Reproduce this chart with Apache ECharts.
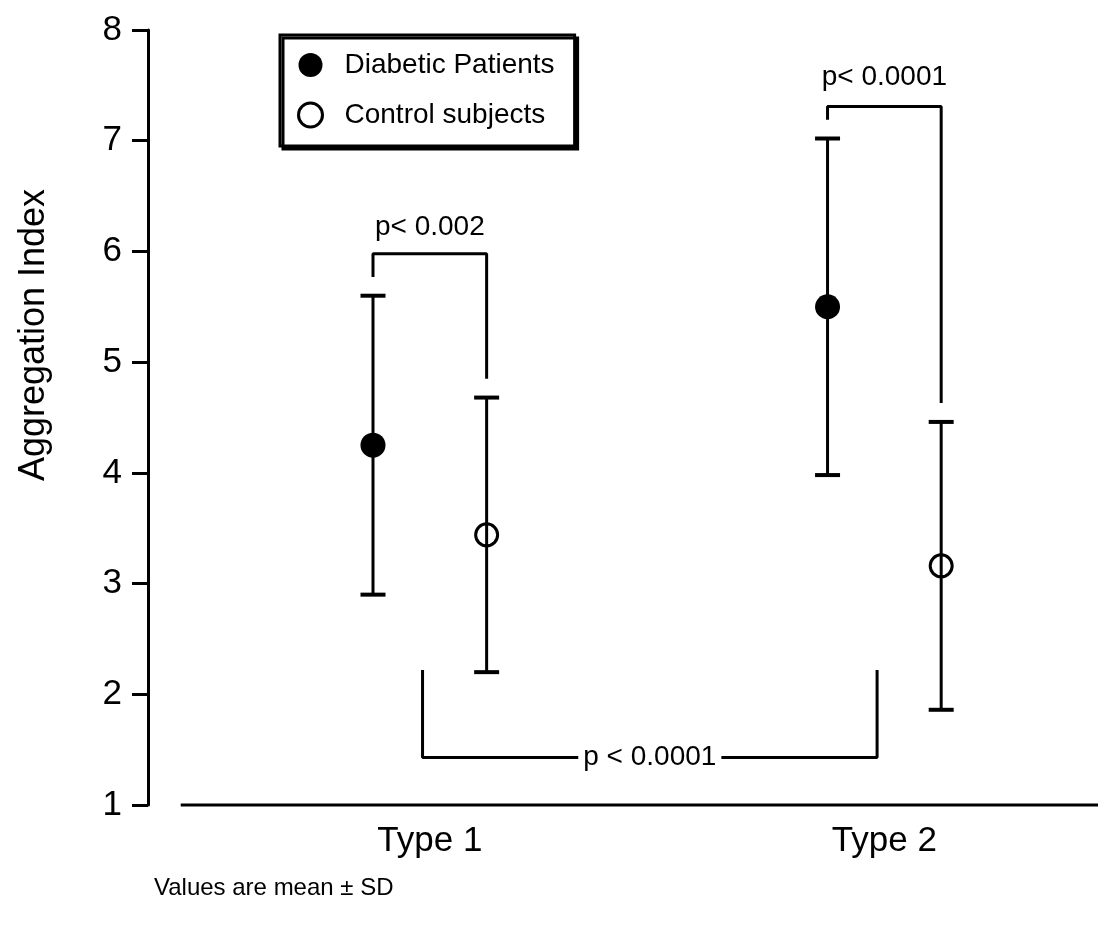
<!DOCTYPE html>
<html>
<head>
<meta charset="utf-8">
<script src="https://cdn.jsdelivr.net/npm/echarts@6/dist/echarts.min.js"></script>
<style>
html,body{margin:0;padding:0;background:#fff;}
#chart{width:1102px;height:932px;}
</style>
</head>
<body>
<div id="chart"></div>
<script>
// Groups and summary statistics (mean and SD of the aggregation index)
const groups = ['Type 1', 'Type 2'];
const groupPos = [1, 2];
const seriesNames = ['Diabetic Patients', 'Control subjects'];
const diabeticMean = [4.25, 5.5];
const diabeticSD = [1.35, 1.52];
const controlMean = [3.44, 3.16];
const controlSD = [1.24, 1.30];
const yTicks = [1, 2, 3, 4, 5, 6, 7, 8];

// Significance annotations
const pairLabels = ['p< 0.002', 'p< 0.0001'];
const pairBracketTop = [5.98, 7.31];
const betweenLabel = 'p < 0.0001';
const betweenBracket = { low: 1.43, high: 2.22 };

const FONT = '"Liberation Sans", Arial, Helvetica, sans-serif';
const OFFSET = 0.125;       // horizontal shift of each series from the group centre
const CAP_GAP = 0.17;       // space between an error-bar cap and a bracket end

const dX = groupPos.map(p => p - OFFSET);
const cX = groupPos.map(p => p + OFFSET);

const diabeticPts = groupPos.map((_, i) => [dX[i], diabeticMean[i]]);
const controlPts = groupPos.map((_, i) => [cX[i], controlMean[i]]);
const errorBars = [];
groupPos.forEach((_, i) => {
  errorBars.push([dX[i], diabeticMean[i] - diabeticSD[i], diabeticMean[i] + diabeticSD[i]]);
  errorBars.push([cX[i], controlMean[i] - controlSD[i], controlMean[i] + controlSD[i]]);
});

// Bracket over each diabetic/control pair
const pairBrackets = groupPos.map((_, i) => [
  [dX[i], diabeticMean[i] + diabeticSD[i] + CAP_GAP],
  [dX[i], pairBracketTop[i]],
  [cX[i], pairBracketTop[i]],
  [cX[i], controlMean[i] + controlSD[i] + CAP_GAP]
]);
const betweenX = groupPos.map(p => p - 0.016);
const betweenLine = [
  [betweenX[0], betweenBracket.high],
  [betweenX[0], betweenBracket.low],
  [betweenX[1], betweenBracket.low],
  [betweenX[1], betweenBracket.high]
];

const textItems = [
  { x: groupPos[0], y: pairBracketTop[0] + 0.24, text: pairLabels[0], bg: false },
  { x: groupPos[1], y: pairBracketTop[1] + 0.26, text: pairLabels[1], bg: false },
  { x: (betweenX[0] + betweenX[1]) / 2, y: betweenBracket.low, text: betweenLabel, bg: true }
];

const chart = echarts.init(document.getElementById('chart'), null, { renderer: 'canvas' });

function errorBarItem(params, api) {
  const x = api.value(0);
  const pLo = api.coord([x, api.value(1)]);
  const pHi = api.coord([x, api.value(2)]);
  const half = 12.5;
  const stroke = { stroke: '#000', lineWidth: 3 };
  const cap = { stroke: '#000', lineWidth: 4 };
  return {
    type: 'group',
    children: [
      { type: 'line', shape: { x1: pLo[0], y1: pLo[1], x2: pHi[0], y2: pHi[1] }, style: stroke },
      { type: 'line', shape: { x1: pLo[0] - half, y1: pLo[1], x2: pLo[0] + half, y2: pLo[1] }, style: cap },
      { type: 'line', shape: { x1: pHi[0] - half, y1: pHi[1], x2: pHi[0] + half, y2: pHi[1] }, style: cap }
    ]
  };
}

function textItem(params, api) {
  const item = textItems[params.dataIndex];
  const p = api.coord([api.value(0), api.value(1)]);
  return {
    type: 'text',
    x: p[0],
    y: p[1],
    style: {
      text: item.text,
      font: '28px ' + FONT,
      fill: '#000',
      align: 'center',
      verticalAlign: 'middle',
      backgroundColor: item.bg ? '#fff' : null,
      padding: item.bg ? [2, 5] : 0
    }
  };
}

const lineSeries = (data) => ({
  type: 'line',
  data: data,
  symbol: 'none',
  silent: true,
  clip: false,
  lineStyle: { color: '#000', width: 3 },
  z: 2
});

const option = {
  animation: false,
  backgroundColor: '#fff',
  textStyle: { fontFamily: FONT, color: '#000' },
  title: {
    text: 'Values are mean \u00B1 SD',
    left: 154,
    top: 876,
    padding: 0,
    textStyle: { fontFamily: FONT, fontSize: 24, fontWeight: 'normal', color: '#000' }
  },
  legend: {
    orient: 'vertical',
    left: 280,
    top: 35,
    selectedMode: false,
    itemWidth: 58,
    itemHeight: 24,
    itemGap: 22,
    padding: [16, 20, 17, 17],
    backgroundColor: '#fff',
    borderColor: '#000',
    borderWidth: 3,
    borderRadius: 0,
    shadowColor: '#000',
    shadowBlur: 0,
    shadowOffsetX: 3,
    shadowOffsetY: 3,
    textStyle: { fontFamily: FONT, fontSize: 28, color: '#000', lineHeight: 26 },
    data: [
      { name: seriesNames[0], icon: 'circle', itemStyle: { color: '#000', borderWidth: 0 } },
      { name: seriesNames[1], icon: 'circle', itemStyle: { color: '#fff', borderColor: '#000', borderWidth: 3 } }
    ]
  },
  grid: { left: 148, right: 4, top: 30, bottom: 127, containLabel: false },
  xAxis: {
    type: 'value',
    min: 0.38,
    max: 2.47,
    axisLine: { show: false },
    axisTick: { show: false },
    splitLine: { show: false },
    axisLabel: {
      customValues: groupPos,
      formatter: v => groups[groupPos.indexOf(v)] || '',
      fontFamily: FONT,
      fontSize: 35,
      color: '#000',
      margin: 19
    }
  },
  yAxis: {
    type: 'value',
    min: yTicks[0],
    max: yTicks[yTicks.length - 1],
    interval: 1,
    axisLine: { show: true, lineStyle: { color: '#000', width: 3 } },
    axisTick: { show: true, inside: false, length: 16, lineStyle: { color: '#000', width: 3 } },
    splitLine: { show: false },
    axisLabel: { fontFamily: FONT, fontSize: 35, color: '#000', margin: 26 }
  },
  graphic: [
    {
      type: 'text',
      x: 34,
      y: 335,
      rotation: Math.PI / 2,
      style: {
        text: 'Aggregation Index',
        font: '36px ' + FONT,
        fill: '#000',
        align: 'center',
        verticalAlign: 'middle'
      }
    }
  ],
  series: [
    // baseline of the horizontal axis
    lineSeries([[0.452, yTicks[0]], [2.47, yTicks[0]]]),
    lineSeries(pairBrackets[0]),
    lineSeries(pairBrackets[1]),
    lineSeries(betweenLine),
    {
      type: 'custom',
      renderItem: errorBarItem,
      data: errorBars,
      encode: { x: 0, y: [1, 2] },
      silent: true,
      z: 3
    },
    {
      name: seriesNames[0],
      type: 'scatter',
      data: diabeticPts,
      symbol: 'circle',
      symbolSize: 25,
      itemStyle: { color: '#000', opacity: 1 },
      silent: true,
      z: 5
    },
    {
      name: seriesNames[1],
      type: 'scatter',
      data: controlPts,
      symbol: 'circle',
      symbolSize: 22,
      itemStyle: { color: 'rgba(0,0,0,0)', borderColor: '#000', borderWidth: 3, opacity: 1 },
      silent: true,
      z: 5
    },
    {
      type: 'custom',
      renderItem: textItem,
      data: textItems.map(t => [t.x, t.y]),
      encode: { x: 0, y: 1 },
      silent: true,
      clip: false,
      z: 6
    }
  ]
};

chart.setOption(option);
</script>
</body>
</html>
